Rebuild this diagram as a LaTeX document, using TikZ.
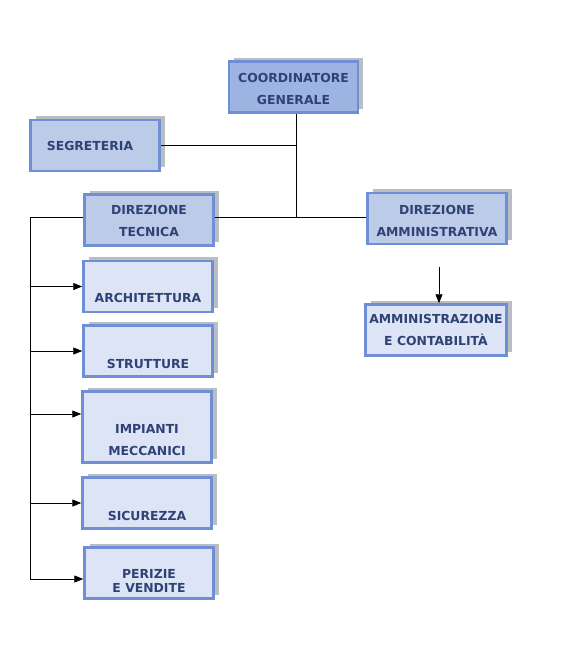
\documentclass[tikz,border=0pt]{standalone}
\usepackage{fontspec}
\setmainfont{DejaVu Sans}
\usetikzlibrary{arrows.meta,shadows}

\definecolor{navy}{HTML}{2F4276}
\definecolor{boxline}{HTML}{6F8ED6}
\definecolor{boxdeep}{HTML}{9DB4E2}
\definecolor{boxmid}{HTML}{BCCBE8}
\definecolor{boxpale}{HTML}{DCE4F6}
\definecolor{shade}{HTML}{7F888F}

\begin{document}
\begin{tikzpicture}
	[x=1pt, y=-1pt, >={Triangle[length=9pt,width=7pt]},
	 box/.style={draw=boxline, line width=2.5pt, minimum width=129pt, minimum height=51pt,
		inner sep=0pt, align=center, text=navy, font=\fontsize{12.4}{22}\selectfont\bfseries,
		drop shadow={shadow xshift=5pt, shadow yshift=4pt, fill=shade, opacity=.55}},
	 deep/.style={box, fill=boxdeep},
	 mid/.style={box, fill=boxmid},
	 pale/.style={box, fill=boxpale},
	 link/.style={draw=black, line width=0.7pt}]
\useasboundingbox (0,0) rectangle (586,657);

\node[deep](coord) at (293.5,87) {\mbox{}\\[-9pt]COORDINATORE\\GENERALE};
\node[mid](segr) at (95,145.5) {SEGRETERIA\hspace*{10pt}};
\node[mid](dirtec) at (149,220) {\mbox{}\\[-10pt]DIREZIONE\\TECNICA};
\node[mid, minimum width=139pt](diramm) at (437,218.5) {\mbox{}\\[-7pt]DIREZIONE\\AMMINISTRATIVA};
\node[pale, minimum width=141pt](ammcont) at (436,330) {AMMINISTRAZIONE\\E CONTABILITÀ};

\node[pale](archi) at (148,286.5) {\mbox{}\\[10pt]ARCHITETTURA};
\node[pale](strut) at (148,351) {\mbox{}\\[14pt]STRUTTURE};
\node[pale, minimum height=71pt](impia) at (147,427) {\mbox{}\\[14pt]IMPIANTI\\MECCANICI};
\node[pale](sicur) at (147,503) {\mbox{}\\[14pt]SICUREZZA};
\node[pale](periz) at (149,573) {\mbox{}\\[3pt]PERIZIE\\[-8pt]E VENDITE};

\coordinate (hub) at (296,217);
\coordinate (bus) at (30,217);
\coordinate (ammtop) at (439,267);

% struttura centrale
\draw[link] (coord.south -| hub) -- (hub);
\draw[link] (segr.east) -- (segr.east -| hub);
\draw[link] (hub -| dirtec.east) -- (hub -| diramm.west);
\draw[link,->] (ammtop) -- (ammtop |- ammcont.north);

% area tecnica
\draw[link] (hub -| dirtec.west) -- (bus) -- ([yshift=-6pt]periz.west -| bus);
\draw[link,->] (bus |- archi.west) -- (archi.west);
\draw[link,->] (bus |- strut.west) -- (strut.west);
\draw[link,->] ([yshift=13pt]impia.west -| bus) -- ([yshift=13pt]impia.west);
\draw[link,->] (bus |- sicur.west) -- (sicur.west);
\draw[link,->] ([yshift=-6pt]periz.west -| bus) -- ([yshift=-6pt]periz.west);

\end{tikzpicture}
\end{document}
